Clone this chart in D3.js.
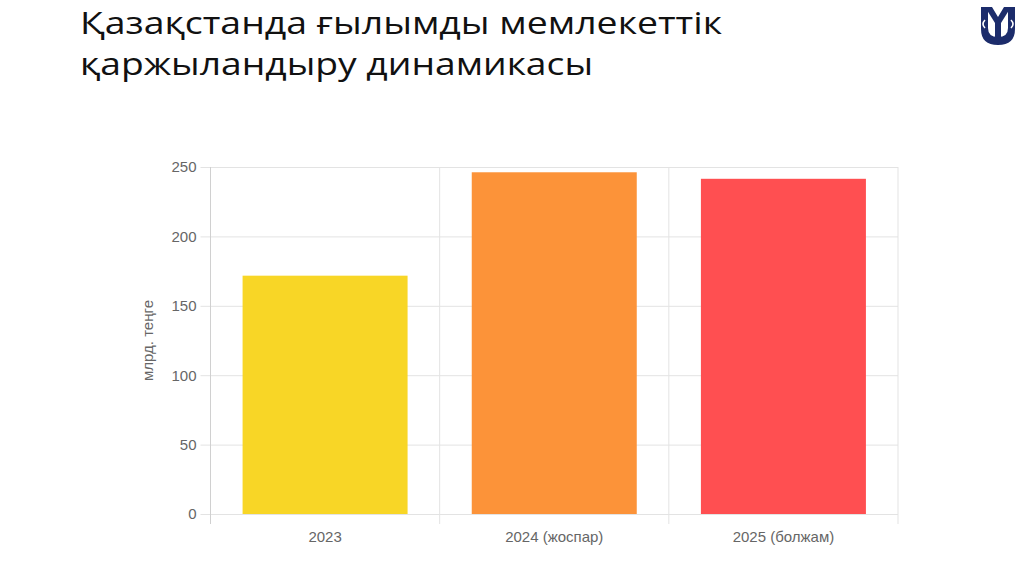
<!DOCTYPE html>
<html>
<head>
<meta charset="utf-8">
<script src="https://cdn.jsdelivr.net/npm/d3@7"></script>
<style>
  body { margin: 0; background: #fff; }
  svg { display: block; }
</style>
</head>
<body>
<svg id="chart" width="1024" height="574"></svg>
<script>
// data
var categories = ["2023", "2024 (жоспар)", "2025 (болжам)"];
var values = [171.7, 246.2, 241.5];
var barColors = ["#f8d626", "#fc9339", "#ff4f51"];
var yTicks = [0, 50, 100, 150, 200, 250];
var titleLines = ["Қазақстанда ғылымды мемлекеттік", "қаржыландыру динамикасы"];
var yLabel = "млрд. теңге";

var margin = {top: 167, right: 126, bottom: 60, left: 210.5},
    width = 1024 - margin.left - margin.right,
    height = 574 - margin.top - margin.bottom;

var svg = d3.select("#chart");

// title
svg.append("g").selectAll("text")
    .data(titleLines)
  .enter().append("text")
    .attr("x", 80)
    .attr("y", function(d, i) { return 34 + i * 41; })
    .attr("textLength", function(d, i) { return i == 0 ? 642 : 513; })
    .attr("lengthAdjust", "spacingAndGlyphs")
    .style("font-family", "'Open Sans', sans-serif")
    .style("font-size", "31px")
    .style("fill", "#111")
    .text(function(d) { return d; });

// logo (rough)
var logo = svg.append("g").attr("transform", "translate(998,26)");
logo.append("path")
    .attr("d", "M-17,-19 L-10,-19 L-10,2 Q-10,11 0,11 Q10,11 10,2 L10,-19 L17,-19 L17,3 Q17,19 0,19 Q-17,19 -17,3 Z")
    .attr("fill", "#1c2c6b");
logo.append("path")
    .attr("d", "M-13,-19 L-6,-19 L0,-9 L6,-19 L13,-19 L3,-3 L3,11 L-3,11 L-3,-3 Z")
    .attr("fill", "#1c2c6b");
logo.append("path")
    .attr("d", "M-13,-6 q-4,4 0,8 M13,-6 q4,4 0,8")
    .attr("fill", "none").attr("stroke", "#fff").attr("stroke-width", 1.6);

var g = svg.append("g")
    .attr("transform", "translate(" + margin.left + "," + margin.top + ")");

var x = d3.scaleBand()
    .domain(categories)
    .range([0, width])
    .paddingInner(0)
    .paddingOuter(0);
var y = d3.scaleLinear()
    .domain([0, 250])
    .range([height, 0]);

// horizontal grid
g.append("g")
    .attr("class", "grid")
    .call(d3.axisLeft(y).tickValues(yTicks).tickSize(-width - 10).tickFormat(""))
    .attr("transform", "translate(-10,0)")
    .call(function(s) { s.select(".domain").remove(); })
    .selectAll("line")
    .attr("stroke", "#e3e3e3");

// vertical grid
var vx = [0].concat(categories.map(function(d) { return x(d) + x.bandwidth(); }));
g.append("g").selectAll("line")
    .data(vx)
  .enter().append("line")
    .attr("x1", function(d) { return d; })
    .attr("x2", function(d) { return d; })
    .attr("y1", 0)
    .attr("y2", height + 10)
    .attr("stroke", function(d, i) { return i == 0 ? "#d0d0d0" : "#e3e3e3"; });

// bars
var bw = x.bandwidth() * 0.72;
g.selectAll(".bar")
    .data(values)
  .enter().append("rect")
    .attr("class", "bar")
    .attr("x", function(d, i) { return x(categories[i]) + (x.bandwidth() - bw) / 2; })
    .attr("width", bw)
    .attr("y", function(d) { return y(d); })
    .attr("height", function(d) { return height - y(d); })
    .attr("fill", function(d, i) { return barColors[i]; });

// y axis labels
g.append("g")
    .call(d3.axisLeft(y).tickValues(yTicks).tickSize(0).tickPadding(14))
    .call(function(s) { s.select(".domain").remove(); })
    .selectAll("text")
    .style("font-family", "'Liberation Sans', Arial, sans-serif")
    .style("font-size", "15px")
    .style("fill", "#666");

// x axis labels
g.append("g")
    .attr("transform", "translate(0," + height + ")")
    .call(d3.axisBottom(x).tickSize(0).tickPadding(17))
    .call(function(s) { s.select(".domain").remove(); })
    .selectAll("text")
    .style("font-family", "'Liberation Sans', Arial, sans-serif")
    .style("font-size", "15px")
    .style("fill", "#666");

// y axis title
g.append("text")
    .attr("transform", "translate(-58," + (height / 2) + ") rotate(-90)")
    .attr("text-anchor", "middle")
    .style("font-family", "'Liberation Sans', Arial, sans-serif")
    .style("font-size", "15px")
    .style("fill", "#666")
    .text(yLabel);
</script>
</body>
</html>
